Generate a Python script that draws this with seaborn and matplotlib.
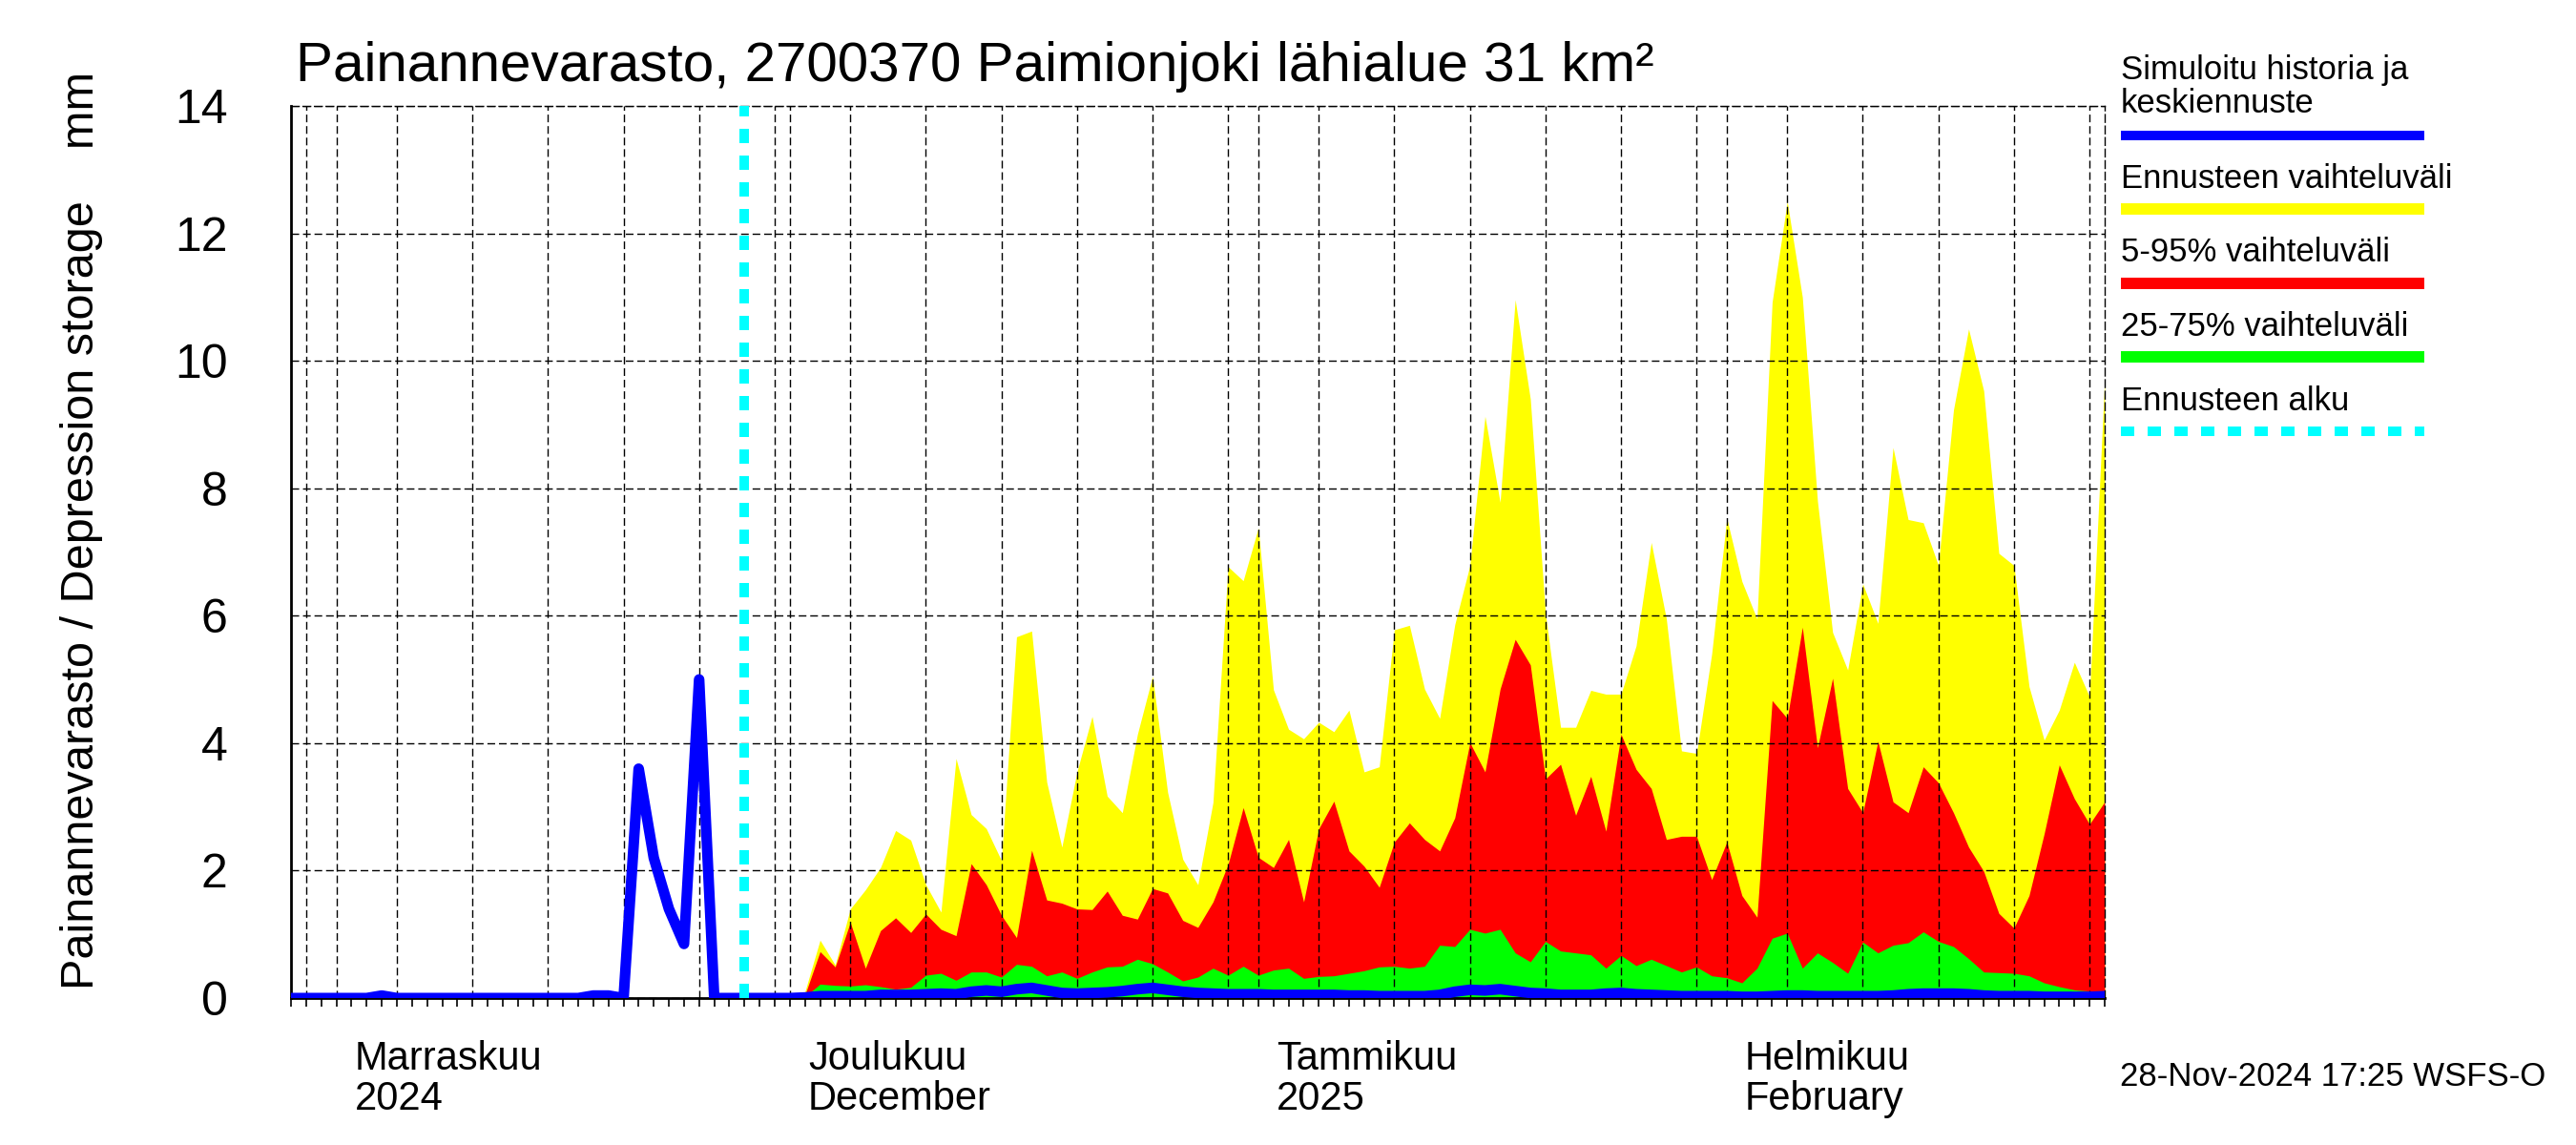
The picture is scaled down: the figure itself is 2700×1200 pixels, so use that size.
import numpy as np
import pandas as pd
import matplotlib
matplotlib.use("Agg")
import matplotlib.pyplot as plt
import matplotlib.dates as mdates
import matplotlib.transforms as mtransforms
from matplotlib.lines import Line2D
import seaborn as sns

# ---------------- data ----------------
title = "Painannevarasto, 2700370 Paimionjoki lähialue 31 km²"
ylabel = "Painannevarasto / Depression storage    mm"
timestamp = "28-Nov-2024 17:25 WSFS-O"

month_starts = ["2024-11-01", "2024-12-01", "2025-01-01", "2025-02-01"]
month_names = ["Marraskuu", "Joulukuu", "Tammikuu", "Helmikuu"]
month_sub = ["2024", "December", "2025", "February"]

legend_labels = ["Simuloitu historia ja\nkeskiennuste", "Ennusteen vaihteluväli",
                 "5-95% vaihteluväli", "25-75% vaihteluväli", "Ennusteen alku"]

x_start = "2024-10-29"
x_end = "2025-02-26"
history_start = "2024-10-29"
forecast_start = "2024-11-28"

# simulated history, daily Oct 29 .. Nov 28
history_values = [0, 0, 0, 0, 0, 0, 0.04, 0, 0, 0,
                  0, 0, 0, 0, 0, 0, 0, 0, 0, 0,
                  0.04, 0.04, 0, 3.6, 2.2, 1.4, 0.85, 5.0, 0, 0,
                  0]

# forecast, daily Nov 28 .. Feb 26
median_values = [0, 0, 0, 0, 0.01, 0.03, 0.03, 0.03, 0.03, 0.05,
                 0.05, 0.05, 0.06, 0.07, 0.06, 0.10, 0.12, 0.10, 0.14, 0.16,
                 0.12, 0.08, 0.07, 0.08, 0.09, 0.11, 0.14, 0.16, 0.13, 0.10,
                 0.08, 0.07, 0.06, 0.06, 0.06, 0.05, 0.05, 0.05, 0.05, 0.05,
                 0.04, 0.04, 0.03, 0.03, 0.03, 0.03, 0.05, 0.10, 0.13, 0.12,
                 0.14, 0.11, 0.08, 0.07, 0.05, 0.05, 0.05, 0.07, 0.08, 0.06,
                 0.05, 0.04, 0.03, 0.03, 0.03, 0.03, 0.02, 0.02, 0.03, 0.04,
                 0.04, 0.03, 0.03, 0.03, 0.03, 0.03, 0.04, 0.06, 0.07, 0.07,
                 0.07, 0.06, 0.04, 0.03, 0.03, 0.03, 0.02, 0.02, 0.02, 0.02,
                 0.03]

p75_values = [0, 0, 0, 0, 0.02, 0.22, 0.20, 0.19, 0.21, 0.18,
              0.14, 0.17, 0.36, 0.39, 0.28, 0.41, 0.41, 0.33, 0.53, 0.50,
              0.35, 0.41, 0.31, 0.41, 0.49, 0.50, 0.61, 0.54, 0.41, 0.27,
              0.33, 0.47, 0.36, 0.50, 0.36, 0.44, 0.47, 0.31, 0.34, 0.35,
              0.39, 0.43, 0.49, 0.50, 0.47, 0.50, 0.83, 0.81, 1.08, 1.02,
              1.08, 0.71, 0.57, 0.89, 0.74, 0.71, 0.68, 0.47, 0.67, 0.51,
              0.61, 0.51, 0.41, 0.49, 0.35, 0.32, 0.24, 0.47, 0.94, 1.02,
              0.47, 0.71, 0.56, 0.39, 0.88, 0.71, 0.83, 0.87, 1.04, 0.89,
              0.81, 0.62, 0.41, 0.40, 0.39, 0.35, 0.24, 0.18, 0.13, 0.11,
              0.10]

p95_values = [0, 0, 0, 0, 0.05, 0.73, 0.49, 1.19, 0.47, 1.06,
              1.26, 1.03, 1.32, 1.08, 0.98, 2.11, 1.78, 1.30, 0.95, 2.32,
              1.54, 1.49, 1.40, 1.39, 1.68, 1.30, 1.24, 1.72, 1.65, 1.22,
              1.11, 1.51, 2.10, 2.99, 2.21, 2.05, 2.49, 1.51, 2.66, 3.09,
              2.31, 2.07, 1.74, 2.45, 2.75, 2.49, 2.31, 2.83, 4.01, 3.55,
              4.85, 5.63, 5.23, 3.44, 3.67, 2.87, 3.48, 2.62, 4.14, 3.59,
              3.29, 2.49, 2.54, 2.54, 1.86, 2.45, 1.61, 1.27, 4.67, 4.39,
              5.82, 3.93, 5.02, 3.29, 2.91, 4.03, 3.08, 2.91, 3.63, 3.38,
              2.91, 2.37, 1.99, 1.33, 1.10, 1.61, 2.58, 3.66, 3.13, 2.73,
              3.08]

max_values = [0, 0, 0, 0, 0.10, 0.91, 0.52, 1.40, 1.70, 2.05,
              2.63, 2.48, 1.78, 1.35, 3.76, 2.88, 2.66, 2.16, 5.67, 5.76,
              3.39, 2.37, 3.55, 4.42, 3.17, 2.91, 4.14, 5.05, 3.23, 2.18,
              1.78, 3.07, 6.77, 6.55, 7.38, 4.84, 4.22, 4.07, 4.33, 4.18,
              4.52, 3.55, 3.63, 5.78, 5.85, 4.85, 4.39, 5.86, 6.79, 9.13,
              7.78, 10.96, 9.40, 6.03, 4.25, 4.25, 4.83, 4.77, 4.77, 5.53,
              7.15, 5.95, 3.88, 3.84, 5.40, 7.53, 6.54, 5.95, 10.92, 12.50,
              11.00, 7.80, 5.74, 5.15, 6.50, 5.88, 8.64, 7.51, 7.46, 6.79,
              9.23, 10.50, 9.53, 6.98, 6.79, 4.89, 4.05, 4.52, 5.27, 4.73,
              9.70]

y_ticks = [0, 2, 4, 6, 8, 10, 12, 14]

# ---------------- frames ----------------
hist_dates = pd.date_range(history_start, periods=len(history_values), freq="D")
fc_dates = pd.date_range(forecast_start, periods=len(median_values), freq="D")
hist = pd.DataFrame({"date": hist_dates, "value": history_values})
fc = pd.DataFrame({"date": fc_dates, "median": median_values, "p75": p75_values,
                   "p95": p95_values, "max": max_values})

# ---------------- style ----------------
sns.set_style("white")
plt.rcParams["font.family"] = ["Liberation Sans", "DejaVu Sans"]
plt.rcParams["text.color"] = "black"
plt.rcParams["axes.labelcolor"] = "black"
plt.rcParams["xtick.color"] = "black"
plt.rcParams["ytick.color"] = "black"

BLUE, YELLOW, RED, GREEN, CYAN = "#0000FF", "#FFFF00", "#FF0000", "#00FF00", "#00FFFF"
grid_ls = (0, (5.8, 2.9))

fig = plt.figure(figsize=(27, 12), dpi=100)
ax = fig.add_axes([0.113, 0.1283, 0.817 - 0.113, 0.9075 - 0.1283])

ax.fill_between(fc["date"], 0, fc["max"], color=YELLOW, lw=0, zorder=1)
ax.fill_between(fc["date"], 0, fc["p95"], color=RED, lw=0, zorder=1.1)
ax.fill_between(fc["date"], 0, fc["p75"], color=GREEN, lw=0, zorder=1.2)

sns.lineplot(data=hist, x="date", y="value", color=BLUE, lw=8, ax=ax, zorder=3)
sns.lineplot(data=fc, x="date", y="median", color=BLUE, lw=8, ax=ax, zorder=3)
ax.axvline(pd.Timestamp(forecast_start), color=CYAN, lw=7.2,
           linestyle=(0, (1.5, 1.3)), zorder=3)

ax.set_xlim(pd.Timestamp(x_start), pd.Timestamp(x_end))
ax.set_ylim(0, 14)
ax.set_xlabel("")
ax.set_ylabel("")

# x ticks: month starts (long), 5-day marks (medium, gridded), daily (short)
all_days = pd.date_range(x_start, x_end, freq="D")
five_days = [d for d in all_days if d.day in (5, 10, 15, 20, 25, 30)]
ax.set_xticks([pd.Timestamp(m) for m in month_starts])
ax.set_xticks(five_days, minor=True)
ax.set_xticklabels([])
ax.tick_params(axis="x", which="major", direction="out", length=51, width=1.5,
               labelbottom=False)
ax.tick_params(axis="x", which="minor", direction="out", length=25, width=1.3,
               labelbottom=False)
sec = ax.secondary_xaxis("bottom")
sec.set_xticks(mdates.date2num(all_days))
sec.tick_params(axis="x", direction="out", length=6.5, width=1.2, labelbottom=False)
sec.set_xticklabels([])
sec.spines["bottom"].set_visible(False)

ax.set_yticks(y_ticks)
ax.set_yticklabels([str(v) for v in y_ticks])
ax.tick_params(axis="y", direction="in", length=32, width=2, pad=48, labelsize=36)

ax.set_axisbelow(False)
ax.grid(True, axis="x", which="both", color="black", lw=1.0, linestyle=grid_ls, zorder=2)
ax.grid(True, axis="y", which="major", color="black", lw=1.0, linestyle=grid_ls, zorder=2)

for s in ["left", "bottom"]:
    ax.spines[s].set_color("black")
    ax.spines[s].set_linewidth(2)
for s in ["top", "right"]:
    ax.spines[s].set_color("black")
    ax.spines[s].set_linewidth(1.0)
    ax.spines[s].set_linestyle(grid_ls)

# month labels
btrans = mtransforms.blended_transform_factory(ax.transData, fig.transFigure)
for m, n1, n2 in zip(month_starts, month_names, month_sub):
    xd = pd.Timestamp(m) + pd.Timedelta(hours=29)
    ax.text(xd, 0.0658, n1, transform=btrans, ha="left", va="baseline", fontsize=30)
    ax.text(xd, 0.0308, n2, transform=btrans, ha="left", va="baseline", fontsize=30)

# titles
fig.text(0.1148, 0.929, title, ha="left", va="baseline", fontsize=42)
fig.text(0.0315, 0.537, ylabel, rotation=90, ha="center", va="center", fontsize=35)
fig.text(0.823, 0.0517, timestamp, ha="left", va="baseline", fontsize=25)

# legend (text above swatch)
lx0, lx1 = 0.8233, 0.9411
fig.text(lx0, 0.9308, "Simuloitu historia ja", ha="left", va="baseline", fontsize=25)
fig.text(lx0, 0.9017, "keskiennuste", ha="left", va="baseline", fontsize=25)
fig.add_artist(Line2D([lx0, lx1], [0.8817, 0.8817], color=BLUE, lw=7.2,
                      solid_capstyle="butt", transform=fig.transFigure))
entries = [(legend_labels[1], 0.8358, 0.8175, YELLOW),
           (legend_labels[2], 0.7717, 0.7525, RED),
           (legend_labels[3], 0.7067, 0.6883, GREEN)]
for lab, ty, ly, col in entries:
    fig.text(lx0, ty, lab, ha="left", va="baseline", fontsize=25)
    fig.add_artist(Line2D([lx0, lx1], [ly, ly], color=col, lw=8.6,
                          solid_capstyle="butt", transform=fig.transFigure))
fig.text(lx0, 0.6417, legend_labels[4], ha="left", va="baseline", fontsize=25)
fig.add_artist(Line2D([lx0, lx1], [0.6233, 0.6233], color=CYAN, lw=7.2,
                      linestyle=(0, (1.4, 1.4)), dash_capstyle="butt",
                      transform=fig.transFigure))

fig.savefig("out.png", dpi=100)
